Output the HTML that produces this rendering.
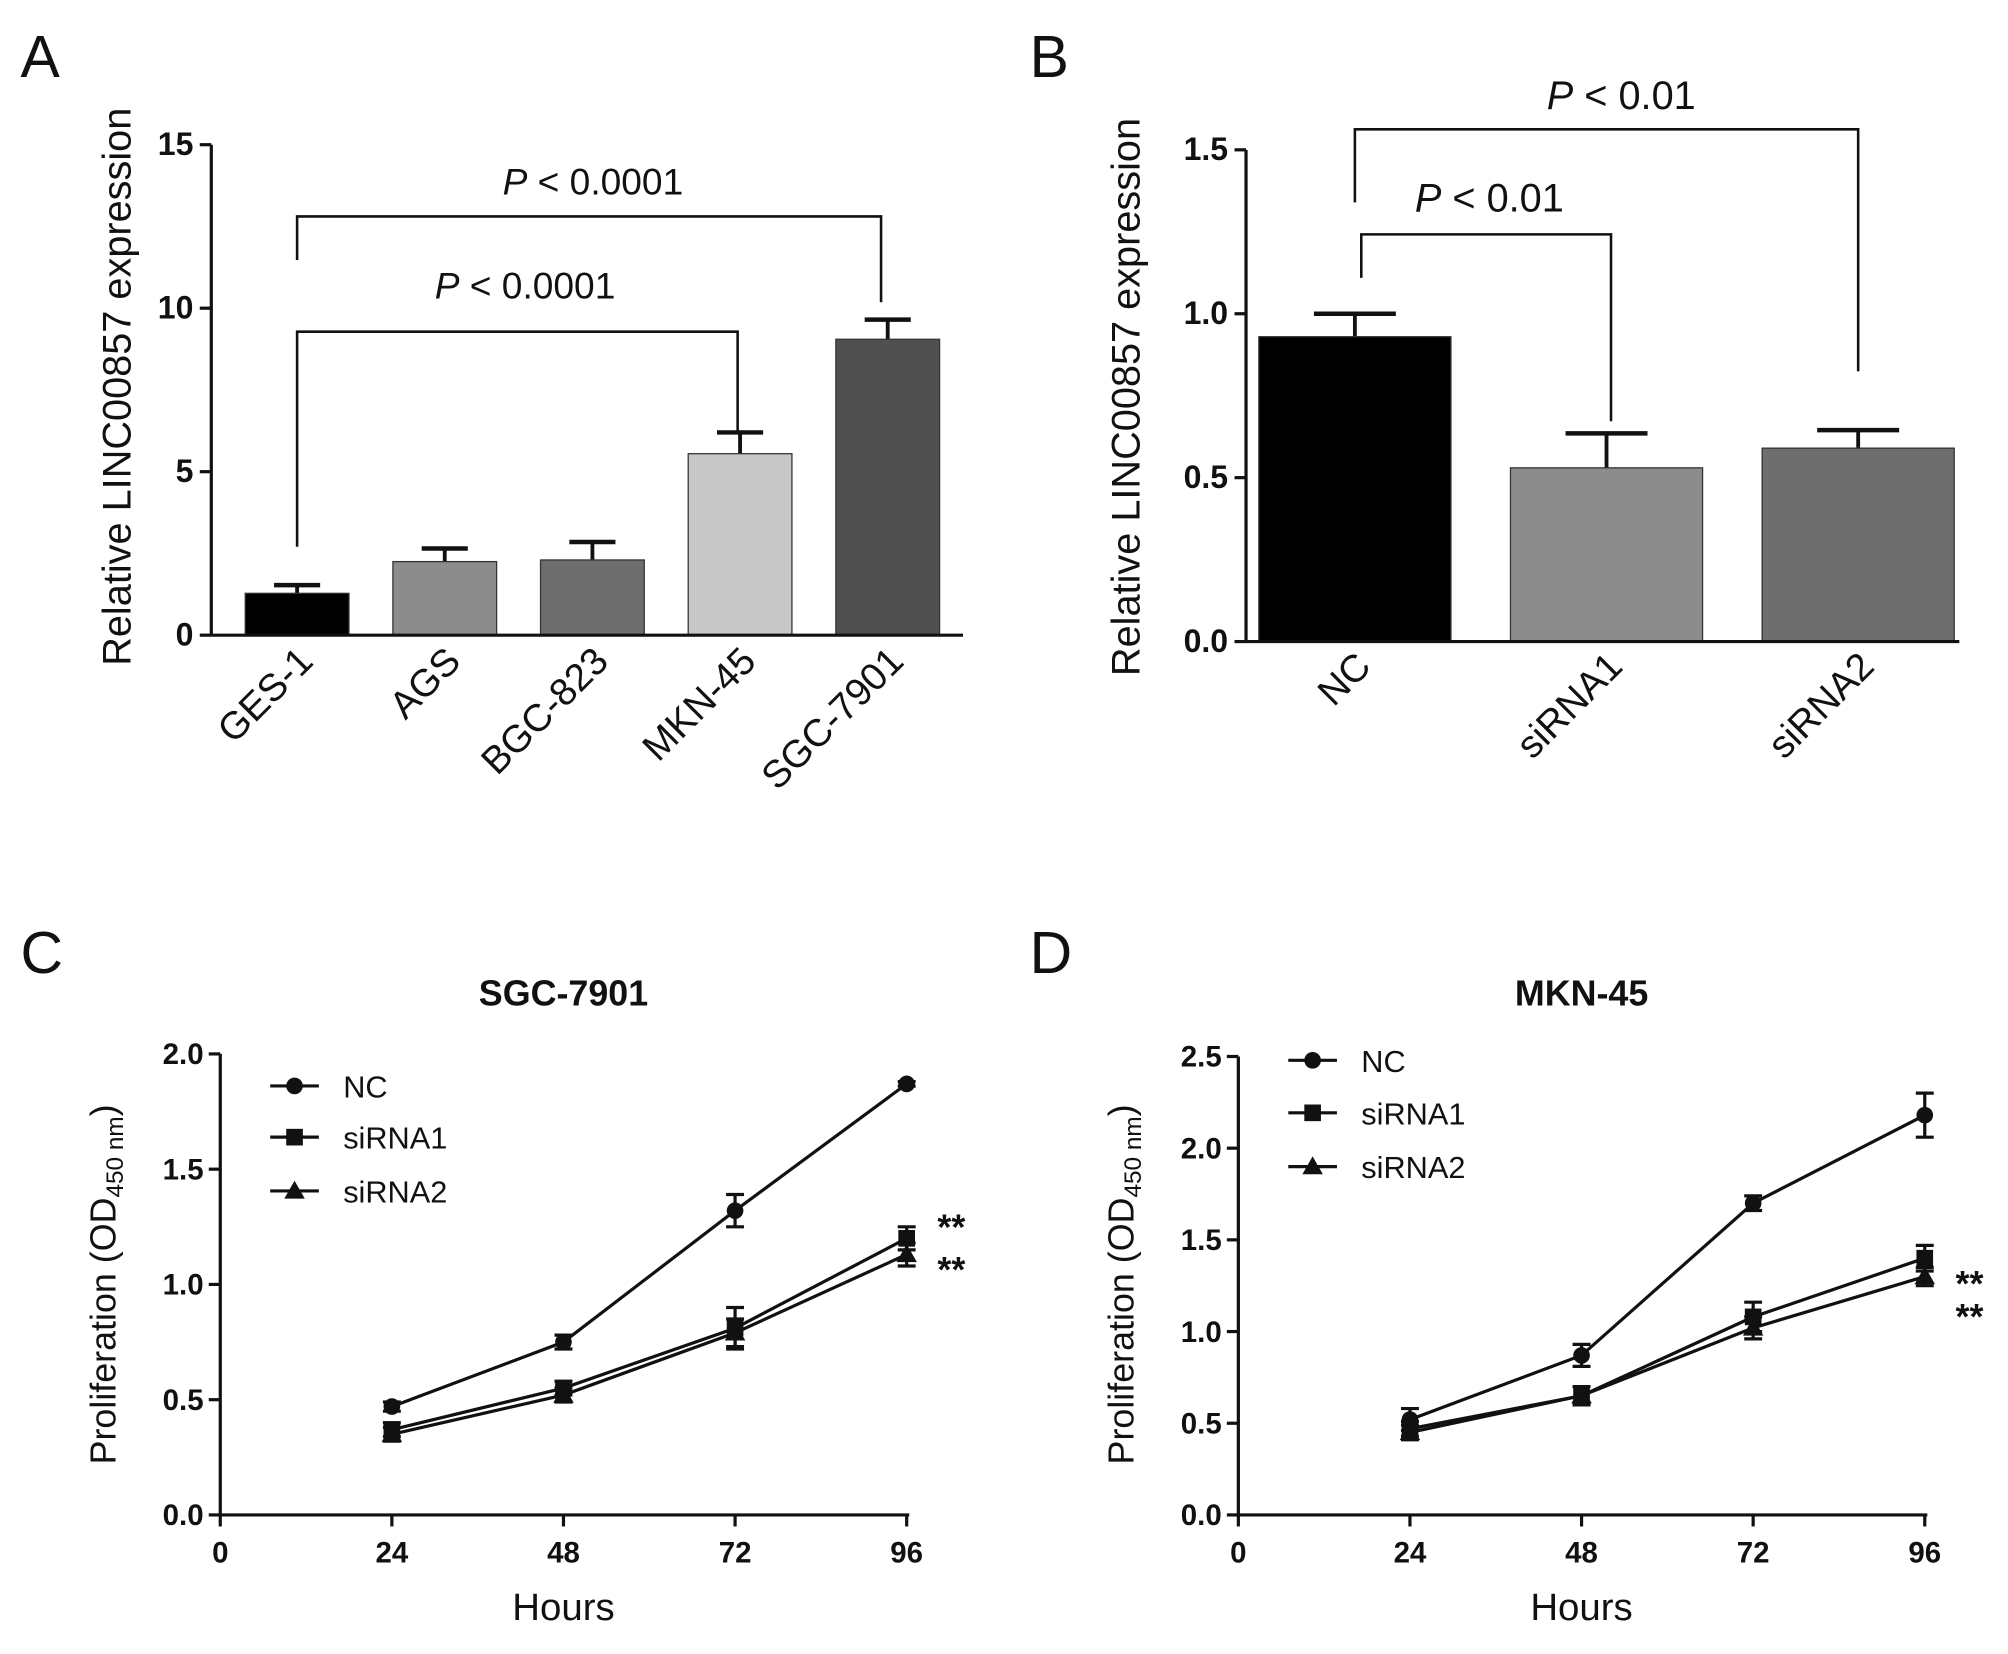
<!DOCTYPE html>
<html><head><meta charset="utf-8"><style>html,body{margin:0;padding:0;background:#fff}svg{display:block}text{font-family:"Liberation Sans",Arial,sans-serif;fill:#111}</style></head>
<body>
<svg id="fig" width="2008" height="1654" viewBox="0 0 1568 1291.6" preserveAspectRatio="none" xmlns="http://www.w3.org/2000/svg"></svg>
<script>
// Panel A data
const aCats = ["GES-1","AGS","BGC-823","MKN-45","SGC-7901"];
const aVals = [1.28, 2.25, 2.3, 5.55, 9.05];
const aErrs = [0.25, 0.4, 0.55, 0.65, 0.6];
const aTicks = [0,5,10,15];
// Panel B data
const bCats = ["NC","siRNA1","siRNA2"];
const bVals = [0.93, 0.53, 0.59];
const bErrs = [0.07, 0.105, 0.055];
const bTicks = ["0.0","0.5","1.0","1.5"];
// Panel C data
const hours = [24,48,72,96];
const xTicks = [0,24,48,72,96];
const cNC = [0.47,0.75,1.32,1.87];
const cNCe = [0.02,0.03,0.07,0.01];
const cS1 = [0.37,0.55,0.81,1.2];
const cS1e = [0.03,0.03,0.09,0.05];
const cS2 = [0.35,0.52,0.79,1.13];
const cS2e = [0.03,0.03,0.06,0.05];
const cTicks = ["0.0","0.5","1.0","1.5","2.0"];
// Panel D data
const dNC = [0.52,0.87,1.7,2.18];
const dNCe = [0.06,0.06,0.04,0.12];
const dS1 = [0.47,0.65,1.08,1.4];
const dS1e = [0.04,0.05,0.08,0.07];
const dS2 = [0.45,0.65,1.02,1.3];
const dS2e = [0.04,0.05,0.06,0.05];
const dTicks = ["0.0","0.5","1.0","1.5","2.0","2.5"];

const svg=document.getElementById('fig');
const NS='http://www.w3.org/2000/svg';
function el(tag,attrs,name,parent){const e=document.createElementNS(NS,tag);for(const k in attrs)e.setAttribute(k,attrs[k]);


(parent||svg).appendChild(e);return e;}
function txt(x,y,s,size,name,extra){const t=el('text',Object.assign({x:x,y:y,'font-size':size},extra||{}),name);t.textContent=s;return t;}
function line(x1,y1,x2,y2,name,w){return el('line',{x1,y1,x2,y2,stroke:'#111','stroke-width':w||2.5},name);}
function path(d,name,w){return el('path',{d,fill:'none',stroke:'#111','stroke-width':w||2},name);}

// Panel letters
txt(16,60,'A',46,'panel-label-a');txt(804,60,'B',46,'panel-label-b');
txt(16,760,'C',46,'panel-label-c');txt(804,760,'D',46,'panel-label-d');

// ---------- Panel A ----------
(function(){
 const x0=165, y0=496, ppu=(496-113)/15, xs=i=>232+i*115.3, bw=81;
 const y=v=>y0-v*ppu;
 const cols=['#000','#8c8c8c','#6e6e6e','#c8c8c8','#505050'];
 aVals.forEach((v,i)=>{
  const cx=xs(i);
  line(cx,y(v),cx,y(v+aErrs[i]),'error-bar-a-'+i,3);
  line(cx-18,y(v+aErrs[i]),cx+18,y(v+aErrs[i]),'error-cap-a-'+i,3.5);
  el('rect',{x:cx-bw/2,y:y(v),width:bw,height:y0-y(v),fill:cols[i],stroke:'#333','stroke-width':1},'bar-a-'+aCats[i]);
  txt(cx+14,518,aCats[i],30,'x-label-a-'+i,{'text-anchor':'end',transform:`rotate(-45 ${cx+14} 518)`});
 });
 line(x0,y(15),x0,y0,'y-axis-a');line(x0,y0,752,y0,'x-axis-a');
 aTicks.forEach(t=>{line(x0-9,y(t),x0,y(t),'y-tick-a');txt(x0-14,y(t)+8,String(t),25,'y-tick-label-a',{'text-anchor':'end','font-weight':'bold'});});
 txt(102,302,'Relative LINC00857 expression',31,'y-axis-title-a',{'text-anchor':'middle',transform:'rotate(-90 102 302)'});
 path(`M232 203 V169 H688 V236`,'sig-bracket-a-outer');
 path(`M232 427 V259 H576 V338`,'sig-bracket-a-inner');
 const p1=txt(463,152,'',29,'p-value-a-outer',{'text-anchor':'middle'});p1.innerHTML='<tspan font-style="italic">P</tspan> &lt; 0.0001';
 const p2=txt(410,233,'',29,'p-value-a-inner',{'text-anchor':'middle'});p2.innerHTML='<tspan font-style="italic">P</tspan> &lt; 0.0001';
})();

// ---------- Panel B ----------
(function(){
 const x0=973, y0=501, ppu=(501-117)/1.5, xs=i=>1058+i*196.5, bw=150;
 const y=v=>y0-v*ppu;
 const cols=['#000','#8c8c8c','#6e6e6e'];
 bVals.forEach((v,i)=>{
  const cx=xs(i);
  line(cx,y(v),cx,y(v+bErrs[i]),'error-bar-b-'+i,3);
  line(cx-32,y(v+bErrs[i]),cx+32,y(v+bErrs[i]),'error-cap-b-'+i,3.5);
  el('rect',{x:cx-bw/2,y:y(v),width:bw,height:y0-y(v),fill:cols[i],stroke:'#333','stroke-width':1},'bar-b-'+bCats[i]);
  txt(cx+14,522,bCats[i],30,'x-label-b-'+i,{'text-anchor':'end',transform:`rotate(-45 ${cx+14} 522)`});
 });
 line(x0,y(1.5),x0,y0,'y-axis-b');line(x0,y0,1530,y0,'x-axis-b');
 bTicks.forEach(t=>{line(x0-9,y(+t),x0,y(+t),'y-tick-b');txt(x0-14,y(+t)+8,t,25,'y-tick-label-b',{'text-anchor':'end','font-weight':'bold'});});
 txt(890,310,'Relative LINC00857 expression',31,'y-axis-title-b',{'text-anchor':'middle',transform:'rotate(-90 890 310)'});
 path(`M1058 158 V101 H1451 V290`,'sig-bracket-b-outer');
 path(`M1063 217 V183 H1258 V329`,'sig-bracket-b-inner');
 const p1=txt(1266,85,'',31,'p-value-b-outer',{'text-anchor':'middle'});p1.innerHTML='<tspan font-style="italic">P</tspan> &lt; 0.01';
 const p2=txt(1163,165,'',31,'p-value-b-inner',{'text-anchor':'middle'});p2.innerHTML='<tspan font-style="italic">P</tspan> &lt; 0.01';
})();

// ---------- Line panels ----------
function marker(type,x,y,name){
 if(type==='c') el('circle',{cx:x,cy:y,r:6.5,fill:'#111'},name);
 else if(type==='s') el('rect',{x:x-6.5,y:y-6.5,width:13,height:13,fill:'#111'},name);
 else el('path',{d:`M${x} ${y-8} L${x+8} ${y+6} L${x-8} ${y+6}Z`,fill:'#111'},name);
}
function linePanel(o){
 const x=h=>o.x0+h*o.pph, y=v=>o.y0-v*o.ppu;
 const ymax=+o.ticks[o.ticks.length-1];
 line(o.x0,y(ymax),o.x0,o.y0,'y-axis-'+o.id);line(o.x0,o.y0,x(96)+2,o.y0,'x-axis-'+o.id);
 o.ticks.forEach(t=>{line(o.x0-9,y(+t),o.x0,y(+t),'y-tick-'+o.id);txt(o.x0-13,y(+t)+8,t,23,'y-tick-label-'+o.id,{'text-anchor':'end','font-weight':'bold'});});
 xTicks.forEach(t=>{line(x(t),o.y0,x(t),o.y0+9,'x-tick-'+o.id);txt(x(t),o.y0+37,String(t),23,'x-tick-label-'+o.id,{'text-anchor':'middle','font-weight':'bold'});});
 txt(x(48),o.y0+82,'Hours',30,'x-axis-title-'+o.id,{'text-anchor':'middle'});
 txt(x(48),785,o.title,28,'chart-title-'+o.id,{'text-anchor':'middle','font-weight':'bold'});
 const yt=txt(o.ytx,1003,'',28,'y-axis-title-'+o.id,{'text-anchor':'middle',transform:`rotate(-90 ${o.ytx} 1003)`});
 yt.innerHTML='Proliferation (OD<tspan font-size="19" dy="6">450 nm</tspan><tspan dy="-6">)</tspan>';
 const series=[[o.nc,o.nce,'c','NC'],[o.s1,o.s1e,'s','siRNA1'],[o.s2,o.s2e,'t','siRNA2']];
 series.forEach(([vals,errs,m,name],k)=>{
  el('polyline',{points:hours.map((h,i)=>x(h)+','+y(vals[i])).join(' '),fill:'none',stroke:'#111','stroke-width':2.5},'series-line-'+name+'-'+o.id);
  hours.forEach((h,i)=>{
   const hi=y(vals[i]+errs[i]),lo=y(vals[i]-errs[i]);
   line(x(h),hi,x(h),lo,'error-bar-'+o.id,2.5);line(x(h)-7,hi,x(h)+7,hi,'error-cap-'+o.id,2.5);line(x(h)-7,lo,x(h)+7,lo,'error-cap-'+o.id,2.5);
   marker(m,x(h),y(vals[i]),'point-'+name+'-'+o.id);
  });
  const ly=o.legY[k];
  line(o.legX,ly,o.legX+38,ly,'legend-line-'+name+'-'+o.id);marker(m,o.legX+19,ly,'legend-marker-'+name+'-'+o.id);
  txt(o.legX+57,ly+9,name,24,'legend-label-'+name+'-'+o.id);
 });
 o.stars.forEach(sy=>txt(x(96)+24,sy,'**',28,'significance-stars-'+o.id,{'font-weight':'bold'}));
}
linePanel({id:'c',x0:172,y0:1183,pph:(708-172)/96,ppu:(1183-823)/2,ticks:cTicks,title:'SGC-7901',ytx:90,
 nc:cNC,nce:cNCe,s1:cS1,s1e:cS1e,s2:cS2,s2e:cS2e,legX:211,legY:[848,888,930],stars:[968,1001]});
linePanel({id:'d',x0:967,y0:1183,pph:(1503-967)/96,ppu:(1183-825)/2.5,ticks:dTicks,title:'MKN-45',ytx:885,
 nc:dNC,nce:dNCe,s1:dS1,s1e:dS1e,s2:dS2,s2e:dS2e,legX:1006,legY:[828,869,911],stars:[1012,1038]});
</script>
</body></html>
